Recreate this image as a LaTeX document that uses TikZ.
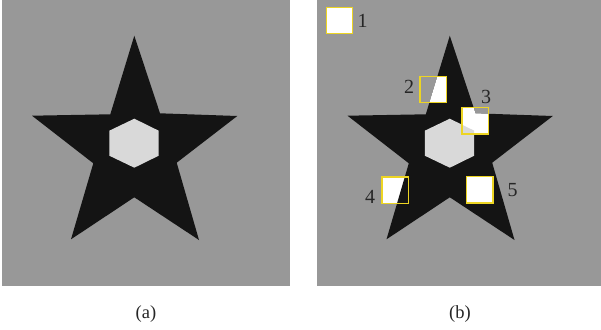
\documentclass[tikz,border=0pt]{standalone}
\usepackage{fontspec}
\setmainfont{Liberation Serif}
\definecolor{bgc}{HTML}{989898}
\definecolor{starc}{HTML}{141414}
\definecolor{hexc}{HTML}{D9D9D9}
\definecolor{boxc}{HTML}{EDD523}
\definecolor{txtc}{HTML}{262626}
\begin{document}
\begin{tikzpicture}[x=1pt,y=-1pt,
  patch/.style={draw=boxc,line width=1.4pt,minimum width=26.5pt,minimum height=26.5pt,inner sep=0pt,outer sep=0pt},
  numlab/.style={text=txtc,font=\fontsize{20}{20}\selectfont,inner sep=0pt},
  caplab/.style={text=txtc,font=\fontsize{18.5}{18.5}\selectfont,inner sep=0pt}]
\useasboundingbox (0,0) rectangle (601,329);
\fill[white] (0,0) rectangle (601,329);
\def\starpath{(134.3,35.7) -- (160,113.3) -- (237.3,116) -- (176.7,162.7) -- (199,240) -- (134.3,197.3) -- (71,239.3) -- (93.3,163.3) -- (32,115.7) -- (110.3,114.3) -- cycle}
\def\hexpath{(134.3,118.7) -- (158.7,130.7) -- (158.7,155.7) -- (134.3,167.7) -- (109.3,155.7) -- (109.3,130.7) -- cycle}
% panel (a)
\fill[bgc] (2,0) rectangle (289.7,285.7);
\fill[starc] \starpath;
\fill[hexc] \hexpath;
\node[caplab] (capa) at (146,314) {(a)};
% panel (b)
\begin{scope}[xshift=315.5pt]
\fill[bgc] (1.2,0) rectangle (285.5,285.7);
\fill[starc] \starpath;
\fill[hexc] \hexpath;
% patch 1
\fill[white] (11,7.5) rectangle (37,33.5);
% patch 2
\begin{scope}
\clip (104.3,76.5) rectangle (131.3,102.5);
\fill[white] \starpath;
\fill[hexc] \hexpath;
\end{scope}
% patch 3
\begin{scope}
\clip (147,107.5) rectangle (172.7,133.9);
\fill[white] \starpath;
\fill[hexc] \hexpath;
\end{scope}
% patch 4
\begin{scope}
\clip (67,177.2) rectangle (92.3,203.5);
\fill[white] (67,177.2) rectangle (92.3,203.5);
\fill[starc] \starpath;
\end{scope}
% patch 5
\fill[white] (150.3,175.8) rectangle (178,203.5);
% borders
\node[patch] (p1) at (24,20.5) {};
\node[patch] (p2) at (117.8,89.5) {};
\node[patch] (p3) at (159.85,120.7) {};
\node[patch] (p4) at (79.65,190.35) {};
\node[patch] (p5) at (164.15,189.65) {};
% labels
\node[numlab] (l1) at (47,21) {1};
\node[numlab] (l2) at (93.5,86.5) {2};
\node[numlab] (l3) at (170.5,96.5) {3};
\node[numlab] (l4) at (54.5,196.7) {4};
\node[numlab] (l5) at (197,190) {5};
\node[caplab] (capb) at (144.5,314) {(b)};
\end{scope}
\end{tikzpicture}
\end{document}
